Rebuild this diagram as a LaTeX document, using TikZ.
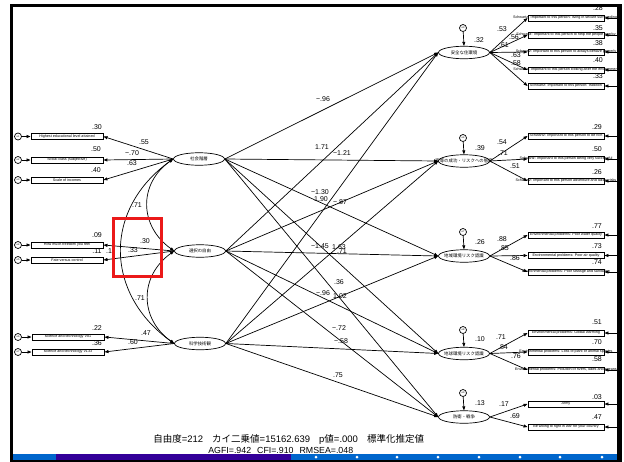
\documentclass[tikz,border=0pt]{standalone}
\usepackage{fontspec}
\setmainfont{Liberation Sans}
\newfontfamily\jp{Noto Sans CJK JP}
\usetikzlibrary{shapes.geometric,arrows.meta}
\definecolor{barblue}{RGB}{0,102,204}
\definecolor{barpurple}{RGB}{51,0,153}
\definecolor{markred}{RGB}{235,25,25}
\newcommand\zw[1]{\makebox[0pt]{#1}}
\begin{document}
\begin{tikzpicture}[x=1pt,y=-1pt,line width=0.7pt,
  >={Triangle[length=4pt,width=3pt]},
  lat/.style={ellipse,draw,fill=white,minimum width=51pt,minimum height=12.5pt,inner sep=0pt,font=\jp\fontsize{4.4}{5}\selectfont},
  obs/.style={rectangle,draw,line width=0.9pt,minimum width=72pt,minimum height=6pt,inner sep=0pt,font=\fontsize{3.7}{4}\selectfont},
  obsr/.style={obs,minimum width=76pt},
  err/.style={circle,draw,fill=white,minimum size=7pt,inner sep=0pt,font=\fontsize{2.5}{3}\selectfont},
  num/.style={inner sep=0pt,font=\fontsize{7}{8}\selectfont},
  frame/.style={line width=2.6pt}]
\useasboundingbox (0,0) rectangle (624,461);
\fill[white] (0,0) rectangle (624,461);
% frame
\draw[frame] (11.3,463) -- (11.3,5.5) -- (619.5,5.5);
\draw[line width=5pt] (619.5,4.2) -- (619.5,463);
% bottom bar
\fill[barblue] (12.6,454) rectangle (56,460);
\fill[barpurple] (56,454) rectangle (291,460);
\fill[barblue] (291,454) rectangle (617,460);
\fill[black] (10,460) rectangle (622,462);
\foreach \dx in {316,357,397,438,479,520,560,602}{\fill[white] (\dx,457) circle (1.5);}

% left observed variables
\node[obs] (o1) at (67,136.5) {\zw{Highest educational level attained}};
\node[obs] (o2) at (67,160) {\zw{Social class (subjective)}};
\node[obs] (o3) at (67,180) {\zw{Scale of incomes}};
\node[obs] (o4) at (67,245) {\zw{How much freedom you feel}};
\node[obs] (o5) at (67,260) {\zw{Fate versus control}};
\node[obs] (o6) at (68,337) {\zw{science and technology V81}};
\node[obs] (o7) at (68,352) {\zw{science and technology V133}};
\node[err] (l1) at (18,136.5) {e1};
\node[err] (l2) at (18,160) {e2};
\node[err] (l3) at (18,180) {e3};
\node[err] (l4) at (18,245) {e4};
\node[err] (l5) at (18,260) {e5};
\node[err] (l6) at (18,337) {e6};
\node[err] (l7) at (18,352) {e7};
\foreach \i in {1,...,7}{\draw[->] (l\i) -- (o\i.west);}

% exogenous latents
\node[lat] (S) at (199,159) {\zw{社会階層}};
\node[lat] (F) at (200,251) {\zw{選択の自由}};
\node[lat] (T) at (200,343.5) {\zw{科学技術観}};

% endogenous latents
\node[lat] (A) at (464,52.5) {\zw{安全な住環境}};
\node[lat] (B) at (464,161) {\zw{富等の成功・リスクへの態度}};
\node[lat] (C) at (464,256) {\zw{地域環境リスク認識}};
\node[lat] (D) at (464,353.5) {\zw{地球環境リスク認識}};
\node[lat] (E) at (464,417) {\zw{防衛・戦争}};
\node[err] (zA) at (463,28) {e3};
\node[err] (zB) at (463,138) {e4};
\node[err] (zC) at (463,232) {e7};
\node[err] (zD) at (463,330) {e8};
\node[err] (zE) at (463,393) {e9};
\foreach \n in {A,B,C,D,E}{\draw[->] (z\n) -- (\n.north);}

% right observed variables
\node[obsr] (a1) at (566,18) {\zw{Schwartz: Important to this person: living in secure surroundings}};
\node[obsr] (a2) at (566,35) {\zw{Schwartz: Important to this person to help the people nearby}};
\node[obsr] (a3) at (566,52) {\zw{Schwartz: Important to this person to always behave properly}};
\node[obsr] (a4) at (566,70) {\zw{Schwartz: Important to this person looking after the environment}};
\node[obsr] (a5) at (566,86) {\zw{Schwartz: Important to this person: tradition}};
\node[obsr] (b1) at (566,136) {\zw{Schwartz: Important to this person to be rich}};
\node[obsr] (b2) at (566,159) {\zw{Schwartz: Important to this person being very successful}};
\node[obsr] (b3) at (566,181) {\zw{Schwartz: Important to this person adventure and taking risks}};
\node[obsr] (c1) at (566,235) {\zw{Environmental problems: Poor water quality}};
\node[obsr] (c2) at (566,255.5) {\zw{Environmental problems: Poor air quality}};
\node[obsr] (c3) at (566,272) {\zw{Environmental problems: Poor sewage and sanitation}};
\node[obsr] (d1) at (566,333) {\zw{Environmental problems: Global warming}};
\node[obsr] (d2) at (566,352) {\zw{Environmental problems: Loss of plant or animal species}};
\node[obsr] (d3) at (566,370) {\zw{Environmental problems: Pollution of rivers, lakes and oceans}};
\node[obsr] (e1) at (566,404) {\zw{Army}};
\node[obsr] (e2) at (566,427) {\zw{Be willing to fight in war for your country}};

% loadings (left)
\foreach \o in {o1,o2,o3}{\draw[->] (S.west) -- (\o.east);}
\foreach \o in {o4,o5}{\draw[->] (F.west) -- (\o.east);}
\foreach \o in {o6,o7}{\draw[->] (T.west) -- (\o.east);}
% loadings (right) and their errors
\foreach \o in {a1,a2,a3,a4,a5}{\draw[->] (A.east) -- (\o.west);}
\foreach \o in {b1,b2,b3}{\draw[->] (B.east) -- (\o.west);}
\foreach \o in {c1,c2,c3}{\draw[->] (C.east) -- (\o.west);}
\foreach \o in {d1,d2,d3}{\draw[->] (D.east) -- (\o.west);}
\foreach \o in {e1,e2}{\draw[->] (E.east) -- (\o.west);}
\foreach \o in {a1,a2,a3,a4,a5,b1,b2,b3,c1,c2,c3,d1,d2,d3,e1,e2}{\draw[->] ([xshift=14pt]\o.east) -- (\o.east);}

% structural paths
\foreach \s in {S,F,T}{\foreach \t in {A,B,C,D,E}{\draw[->] (\s.east) -- (\t.west);}}

% correlations
\draw[<->] (S.west) .. controls +(-35,25) and +(-35,-25) .. (F.west);
\draw[<->] (F.west) .. controls +(-35,25) and +(-35,-25) .. (T.west);
\draw[<->] (S.west) .. controls +(-70,50) and +(-70,-50) .. (T.west);

% red highlight
\draw[markred,line width=2.6pt] (113.5,218.5) rectangle (161.5,276.5);

% numbers, left
\node[num] at (97,127) {.30};
\node[num] at (96,149) {.50};
\node[num] at (96,170) {.40};
\node[num] at (97,235) {.09};
\node[num] at (97,251) {.11};
\node[num] at (109,251) {.1};
\node[num] at (97,328) {.22};
\node[num] at (97,343) {.36};
\node[num] at (144,142) {.55};
\node[num] at (132,153) {−.70};
\node[num] at (132,163) {.63};
\node[num] at (145,241) {.30};
\node[num] at (133,250) {.33};
\node[num] at (146,333) {.47};
\node[num] at (133,342) {.60};
\node[num] at (137,205) {.71};
\node[num] at (140,298) {.71};
% structural numbers
\node[num] at (323,99) {−.96};
\node[num] at (322,147) {1.71};
\node[num] at (342,153) {−1.21};
\node[num] at (320,192) {−1.30};
\node[num] at (321,199) {1.90};
\node[num] at (340,202) {−.87};
\node[num] at (320,246) {−1.45};
\node[num] at (339,247) {1.63};
\node[num] at (342,251) {.71};
\node[num] at (339,282) {.36};
\node[num] at (323,293) {−.96};
\node[num] at (340,296) {1.02};
\node[num] at (339,328) {−.72};
\node[num] at (341,341) {−.58};
\node[num] at (338,375) {.75};
% endogenous R2
\node[num] at (479,40) {.32};
\node[num] at (480,148) {.39};
\node[num] at (480,242) {.26};
\node[num] at (480,339) {.10};
\node[num] at (480,403) {.13};
% right loadings
\node[num] at (502,29) {.53};
\node[num] at (514,37) {.56};
\node[num] at (504,45) {.61};
\node[num] at (516,55) {.63};
\node[num] at (516,63) {.58};
\node[num] at (502,142) {.54};
\node[num] at (503,153) {.71};
\node[num] at (515,166) {.51};
\node[num] at (502,239) {.88};
\node[num] at (504,248) {.85};
\node[num] at (515,258) {.86};
\node[num] at (501,337) {.71};
\node[num] at (503,347) {.84};
\node[num] at (516,356) {.76};
\node[num] at (504,404) {.17};
\node[num] at (515,416) {.69};
% right R2
\node[num] at (598,8) {.28};
\node[num] at (598,28) {.35};
\node[num] at (598,43) {.38};
\node[num] at (598,60) {.40};
\node[num] at (598,76) {.33};
\node[num] at (597,127) {.29};
\node[num] at (597,149) {.50};
\node[num] at (597,172) {.26};
\node[num] at (597,226) {.77};
\node[num] at (597,246) {.73};
\node[num] at (597,262) {.74};
\node[num] at (597,322) {.51};
\node[num] at (597,342) {.70};
\node[num] at (597,359) {.58};
\node[num] at (597,397) {.03};
\node[num] at (597,417) {.47};

% caption
\node[anchor=west,inner sep=0pt,font=\fontsize{9.5}{11}\selectfont] (cap1) at (153,439) {{\jp 自由度}=212\hspace{9pt}{\jp カイ二乗値}=15162.639\hspace{9pt}p{\jp 値}=.000\hspace{9pt}{\jp 標準化推定値}};
\node[anchor=west,inner sep=0pt,font=\fontsize{8.8}{10}\selectfont] (cap2) at (208,450) {AGFI=.942\hspace{6pt}CFI=.910\hspace{6pt}RMSEA=.048};
\end{tikzpicture}
\end{document}
